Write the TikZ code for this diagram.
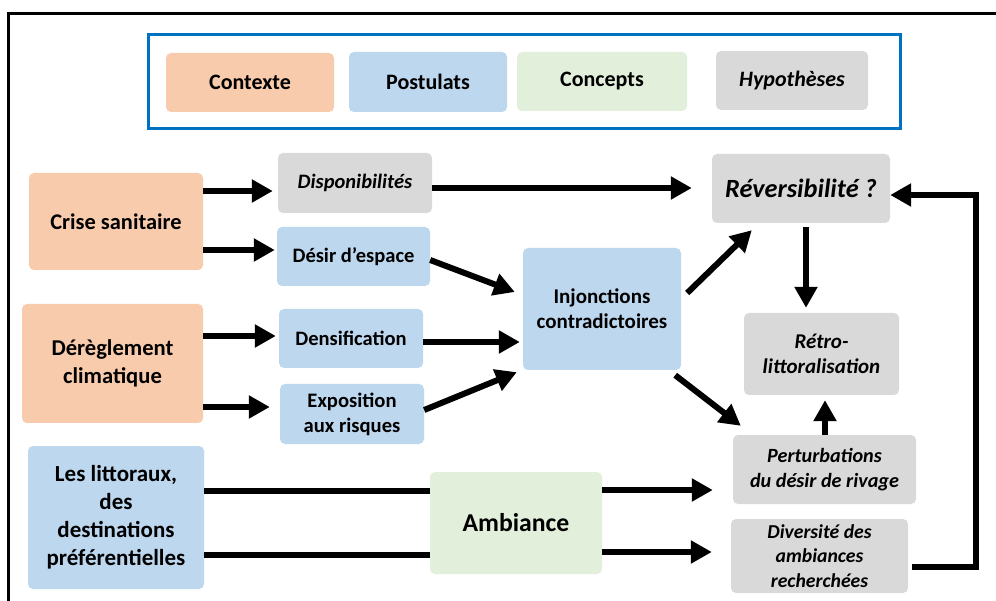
\documentclass[tikz,border=0pt]{standalone}
\usepackage{fontspec}
\setmainfont{Carlito}
\usetikzlibrary{arrows.meta,calc}
\definecolor{ctxc}{HTML}{F8CBAD}
\definecolor{pstc}{HTML}{BDD7EE}
\definecolor{cptc}{HTML}{E2EFDA}
\definecolor{hypc}{HTML}{D9D9D9}
\definecolor{legc}{HTML}{0070C0}
\tikzset{
  box/.style={rounded corners=5pt, align=center, inner sep=2pt, text=black,
    font=\bfseries\fontsize{20.5}{25}\selectfont},
  sz/.style 2 args={minimum width=#1pt, minimum height=#2pt},
  ctx/.style={box, fill=ctxc},
  pst/.style={box, fill=pstc},
  cpt/.style={box, fill=cptc},
  hyp/.style={box, fill=hypc, font=\bfseries\itshape\fontsize{20.5}{25}\selectfont},
  leg/.style={font=\bfseries\fontsize{22}{26}\selectfont},
  legi/.style={font=\bfseries\itshape\fontsize{22}{26}\selectfont},
  arr/.style={line width=6pt, -{Triangle[length=21pt,width=22pt]}},
  bar/.style={line width=6pt},
}
\begin{document}
\begin{tikzpicture}[x=1pt,y=-1pt]
\useasboundingbox (0,0) rectangle (996,601);
\clip (0,0) rectangle (996,601);
\fill[white] (0,0) rectangle (996,601);
% outer frame
\draw[line width=3pt] (8.5,13.5) rectangle (1010,615);
% legend
\node[draw=legc, line width=3pt, sz={752}{94}] (legend) at (524,82) {};
\node[ctx, leg, sz={168}{59}] (lctx) at (250,82.5) {Contexte};
\node[pst, leg, sz={158}{60}] (lpst) at (428,82) {Postulats};
\node[cpt, leg, sz={170}{59}] (lcpt) at (602,81.5) {Concepts};
\node[hyp, legi, sz={152}{59}] (lhyp) at (792,80.5) {Hypothèses};
% nodes
\node[ctx, sz={174}{97}, font=\bfseries\fontsize{22.4}{28}\selectfont] (crise) at (116,221.5) {Crise sanitaire};
\node[hyp, sz={154}{60}] (disp) at (355,183) {Disponibilités};
\node[pst, sz={153}{59}] (desir) at (353.5,256.5) {Désir d’espace};
\node[hyp, sz={178}{69}, font=\bfseries\itshape\fontsize{26.3}{30}\selectfont] (rev) at (801,188.5) {Réversibilité ?};
\node[pst, sz={158}{122}, font=\bfseries\fontsize{21}{25}\selectfont] (inj) at (602,309) {Injonctions\\contradictoires};
\node[ctx, sz={181}{119}, font=\bfseries\fontsize{22.6}{28}\selectfont] (dereg) at (112.5,363.5) {Dérèglement\\climatique};
\node[pst, sz={144}{59}] (dens) at (351,338.5) {Densification};
\node[pst, sz={144}{60}, font=\bfseries\fontsize{20.6}{25}\selectfont] (expo) at (352,414) {Exposition\\aux risques};
\node[hyp, sz={155}{82}, font=\bfseries\itshape\fontsize{21}{25}\selectfont] (retro) at (821.5,354) {Rétro-\\littoralisation};
\node[pst, sz={176}{143}, font=\bfseries\fontsize{23}{28}\selectfont] (litt) at (116,517.5) {Les littoraux,\\des\\destinations\\préférentielles};
\node[cpt, sz={172}{102}, font=\bfseries\fontsize{25.7}{28}\selectfont] (amb) at (516,523) {Ambiance};
\node[hyp, sz={183}{69}, font=\bfseries\itshape\fontsize{20.2}{25}\selectfont] (pert) at (824.5,469.5) {Perturbations\\du désir de rivage};
\node[hyp, sz={177}{74}, font=\bfseries\itshape\fontsize{19.7}{24.5}\selectfont] (div) at (819.5,556) {Diversité des\\ambiances\\recherchées};
% arrows
\draw[arr, shorten >=5pt] (crise.east |- 0,191) -- (disp.west |- 0,191);
\draw[arr, shorten >=2pt] (crise.east |- 0,250) -- (desir.west |- 0,250);
\draw[arr, shorten >=20pt] (disp.east |- 0,188) -- (rev.west |- 0,188);
\draw[arr] ($(desir.east)+(0,3.5)$) -- ($(inj.west)+(-8,-17)$);
\draw[arr, shorten >=3pt] (dens.east |- 0,342) -- (inj.west |- 0,342);
\draw[arr] ($(expo.east)+(0,-4)$) -- ($(inj.south west)+(-6,2)$);
\draw[arr] ($(inj.east)+(6,-16)$) -- ($(rev.south west)+(40,7)$);
\draw[arr] ($(inj.south east)+(-6,5)$) -- ($(pert.north west)+(8,-9)$);
\draw[arr, shorten <=4pt, shorten >=5pt] (rev.south -| 806,0) -- (retro.north -| 806,0);
\draw[arr, shorten >=5pt] (pert.north -| 825,0) -- (retro.south -| 825,0);
\draw[arr, shorten >=3pt] (dereg.east |- 0,336) -- (dens.west |- 0,336);
\draw[arr, shorten >=10pt] (dereg.east |- 0,407) -- (expo.west |- 0,407);
\draw[bar] (litt.east |- 0,491) -- (amb.west |- 0,491);
\draw[bar] (litt.east |- 0,555) -- (amb.west |- 0,555);
\draw[arr, shorten >=20pt] (amb.east |- 0,490) -- (pert.west |- 0,490);
\draw[arr, shorten >=19pt] (amb.east |- 0,552) -- (div.west |- 0,552);
% feedback
\coordinate (fbtop) at (976,195);
\coordinate (fbbot) at (976,567);
\draw[bar] ($(pert.east)+(1,4.5)$) -- ($(pert.east)+(1,4.5)$ -| fbtop);
\draw[arr] ($(div.east |- fbbot)+(4,0)$) -- (fbbot) -- (fbtop) -- (rev.east |- fbtop);
\end{tikzpicture}
\end{document}
